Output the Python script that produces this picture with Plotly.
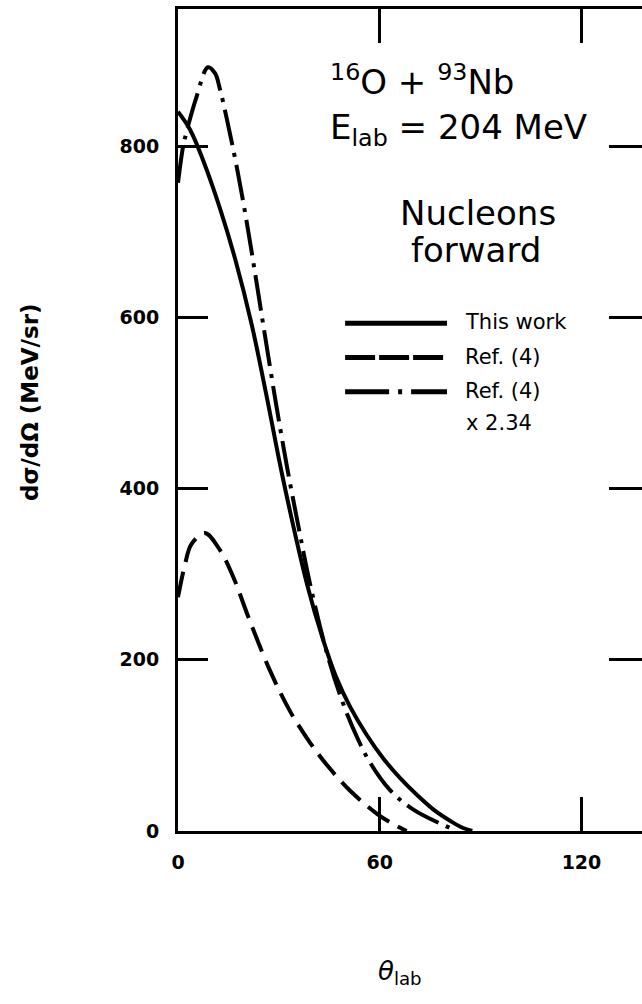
import plotly.graph_objects as go

# ---- data ----
theta_this_work = [0, 3.6, 7.4, 12.5, 17.0, 22.0, 26.5, 31.2, 38.4, 43.1, 47.0, 51.2, 56.0, 61.0,
                   66.0, 71.1, 76.0, 80.9, 84.0, 87.5]
xs_this_work = [840, 819, 784, 727, 668, 590, 505, 412, 288, 224, 180, 145, 113, 85,
                62, 42, 25, 12, 5, 0]

theta_ref4 = [0, 2.0, 4.0, 8.0, 12.5, 16.4, 21.4, 27.4, 33.3, 39.3, 44.3, 51.2, 59.2, 64.0, 68.0]
xs_ref4 = [273, 310, 335, 348, 328, 297, 245, 187, 140, 103, 77, 47, 20, 8, 0]

theta_ref4_scaled = [0, 1.5, 2.7, 5.4, 8.9, 11.0, 12.5, 14.5, 17.5, 20.4, 22.9, 25.4, 28.9, 32.3,
                     35.8, 39.3, 44.5, 49.0, 53.2, 57.1, 63.0, 70.0, 83.0]
xs_ref4_scaled = [757, 799, 819, 856, 892, 885, 866, 832, 775, 712, 652, 590, 505, 428,
                  356, 288, 205, 150, 110, 80, 48, 25, 0]

x_ticks = [0, 60, 120]
y_ticks = [0, 200, 400, 600, 800]

legend_labels = ["This work", "Ref. (4)", "Ref. (4)"]
legend_extra = "x 2.34"

FONT = "DejaVu Sans"
BLACK = "#000000"
DASH_DASHED = "26px,10px"
DASH_DASHDOT = "36px,8px,4px,8px"

fig = go.Figure()
fig.add_trace(go.Scatter(x=theta_this_work, y=xs_this_work, mode="lines",
                         line=dict(color=BLACK, width=4, shape="spline", smoothing=1.0),
                         showlegend=False, hoverinfo="skip"))
fig.add_trace(go.Scatter(x=theta_ref4, y=xs_ref4, mode="lines",
                         line=dict(color=BLACK, width=4, dash=DASH_DASHED, shape="spline", smoothing=1.0),
                         showlegend=False, hoverinfo="skip"))
fig.add_trace(go.Scatter(x=theta_ref4_scaled, y=xs_ref4_scaled, mode="lines",
                         line=dict(color=BLACK, width=4, dash=DASH_DASHDOT, shape="spline", smoothing=1.0),
                         showlegend=False, hoverinfo="skip"))
# invisible trace so the right-hand tick axis is drawn
fig.add_trace(go.Scatter(x=theta_this_work, y=xs_this_work, yaxis="y2", mode="lines",
                         line=dict(width=0), opacity=0, showlegend=False, hoverinfo="skip"))

X_RANGE = [0, 138.0]
Y_RANGE = [0, 960]
TICKFONT = dict(size=19, family=FONT, color=BLACK, weight="bold")

fig.update_layout(
    width=642, height=1004,
    margin=dict(l=178, r=0, t=9, b=173),
    paper_bgcolor="white", plot_bgcolor="white",
    font=dict(family=FONT, color=BLACK, size=20),
    xaxis=dict(range=X_RANGE, tickvals=x_ticks, ticktext=[str(v) for v in x_ticks],
               ticks="inside", ticklen=34, tickwidth=2.5, tickcolor=BLACK,
               showline=True, linewidth=3, linecolor=BLACK, mirror="ticks",
               showgrid=False, zeroline=False, ticklabelstandoff=12,
               tickfont=TICKFONT),
    yaxis=dict(range=Y_RANGE, tickvals=y_ticks, ticktext=[str(v) for v in y_ticks],
               ticks="inside", ticklen=30, tickwidth=2.5, tickcolor=BLACK,
               showline=True, linewidth=3, linecolor=BLACK,
               showgrid=False, zeroline=False, ticklabelstandoff=12,
               tickfont=TICKFONT),
    yaxis2=dict(range=Y_RANGE, tickvals=y_ticks, overlaying="y", side="right",
                ticks="inside", ticklen=33, tickwidth=2.5, tickcolor=BLACK,
                showticklabels=False, showline=False, showgrid=False, zeroline=False),
)

ann = []
ann.append(dict(x=44.6, y=877, xref="x", yref="y", xanchor="left", yanchor="middle",
                text="<sup>16</sup>O + <sup>93</sup>Nb", showarrow=False,
                font=dict(size=34, family=FONT, color=BLACK)))
ann.append(dict(x=44.6, y=819, xref="x", yref="y", xanchor="left", yanchor="middle",
                text="E<sub>lab</sub> = 204 MeV", showarrow=False,
                font=dict(size=34, family=FONT, color=BLACK)))
ann.append(dict(x=89.3, y=722, xref="x", yref="y", xanchor="center", yanchor="middle",
                text="Nucleons", showarrow=False, font=dict(size=34, family=FONT, color=BLACK)))
ann.append(dict(x=88.7, y=679, xref="x", yref="y", xanchor="center", yanchor="middle",
                text="forward", showarrow=False, font=dict(size=34, family=FONT, color=BLACK)))

legend_y = [594, 554, 514]
legend_key_dash = ["solid", "30px,4px", "44px,9px,4px,9px"]
for lbl, yy, dsh in zip(legend_labels, legend_y, legend_key_dash):
    ann.append(dict(x=84.8, y=yy, xref="x", yref="y", xanchor="left", yanchor="middle",
                    text=lbl, showarrow=False, font=dict(size=21, family=FONT, color=BLACK)))
    fig.add_shape(type="line", xref="x", yref="y", x0=49.7, x1=80.0, y0=yy - 1, y1=yy - 1,
                  line=dict(color=BLACK, width=5, dash=dsh))
ann.append(dict(x=85.2, y=476, xref="x", yref="y", xanchor="left", yanchor="middle",
                text=legend_extra, showarrow=False, font=dict(size=21, family=FONT, color=BLACK)))

ann.append(dict(x=-0.319, y=501, xref="paper", yref="y", xanchor="center", yanchor="middle",
                text="dσ/dΩ (MeV/sr)", textangle=-90, showarrow=False,
                font=dict(size=23, family=FONT, color=BLACK, weight="bold")))
ann.append(dict(x=0.478, y=-0.172, xref="paper", yref="paper", xanchor="center", yanchor="middle",
                text="<i>θ</i><sub>lab</sub>", showarrow=False,
                font=dict(size=26, family=FONT, color=BLACK)))
fig.update_layout(annotations=ann)

fig.write_html("out.html")
